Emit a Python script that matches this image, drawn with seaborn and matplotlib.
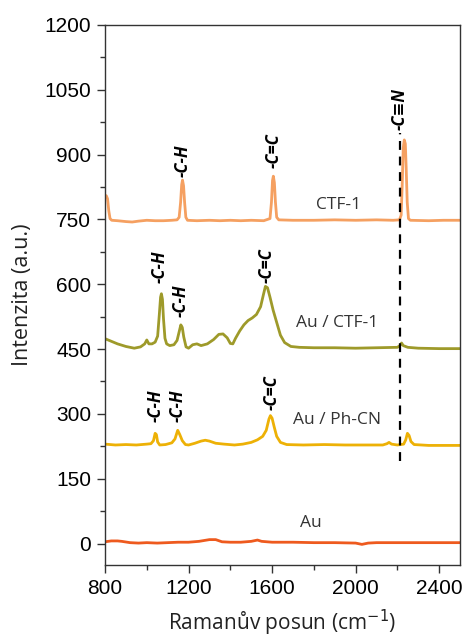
import matplotlib
matplotlib.use("Agg")
import matplotlib.pyplot as plt
import seaborn as sns
import pandas as pd
from matplotlib.ticker import MultipleLocator

# ---------------- data ----------------
ctf_x = [800, 806, 812, 818, 824, 832, 860, 900, 930, 960, 1000, 1040, 1080, 1120, 1145, 1155, 1162, 1167, 1171, 1176, 1181, 1187, 1195, 1240, 1300, 1350, 1400, 1450, 1500, 1560, 1590, 1597, 1602, 1606, 1611, 1616, 1622, 1632, 1700, 1800, 1900, 2000, 2100, 2180, 2210, 2218, 2223, 2228, 2233, 2238, 2242, 2247, 2253, 2262, 2350, 2420, 2500]
ctf_y = [800, 805, 798, 770, 752, 748, 747, 745, 744, 746, 748, 747, 747, 748, 749, 755, 790, 830, 841, 828, 790, 755, 748, 747, 748, 747, 748, 747, 748, 747, 752, 790, 840, 850, 835, 790, 755, 749, 748, 748, 749, 748, 749, 748, 749, 760, 830, 915, 934, 925, 870, 790, 752, 748, 747, 748, 748]

auctf_x = [800, 830, 860, 900, 940, 970, 990, 1000, 1010, 1025, 1040, 1052, 1060, 1066, 1070, 1075, 1080, 1087, 1095, 1110, 1130, 1145, 1155, 1163, 1170, 1177, 1188, 1200, 1220, 1240, 1260, 1290, 1320, 1345, 1365, 1385, 1400, 1412, 1425, 1445, 1465, 1485, 1505, 1525, 1545, 1558, 1568, 1578, 1590, 1605, 1620, 1640, 1660, 1690, 1730, 1800, 1900, 2000, 2100, 2200, 2212, 2220, 2228, 2250, 2300, 2400, 2500]
auctf_y = [474, 468, 462, 456, 452, 455, 462, 471, 462, 462, 466, 480, 530, 570, 578, 565, 520, 475, 462, 458, 460, 470, 490, 506, 500, 478, 455, 452, 460, 462, 458, 462, 472, 484, 485, 476, 463, 462, 475, 492, 506, 516, 522, 530, 548, 575, 595, 592, 570, 540, 515, 482, 465, 456, 454, 453, 453, 452, 453, 454, 458, 464, 458, 454, 452, 451, 451]

phcn_x = [800, 850, 900, 950, 1000, 1020, 1032, 1040, 1046, 1052, 1062, 1090, 1120, 1135, 1148, 1158, 1170, 1185, 1200, 1230, 1260, 1280, 1300, 1330, 1370, 1420, 1460, 1500, 1530, 1555, 1572, 1585, 1592, 1600, 1610, 1622, 1640, 1670, 1750, 1850, 1950, 2050, 2130, 2150, 2160, 2172, 2200, 2230, 2240, 2248, 2256, 2265, 2280, 2350, 2450, 2500]
phcn_y = [230, 228, 229, 228, 230, 231, 238, 255, 252, 235, 228, 229, 233, 242, 262, 252, 238, 229, 228, 232, 237, 239, 237, 232, 230, 228, 230, 234, 240, 248, 262, 288, 296, 290, 270, 248, 234, 229, 228, 229, 228, 228, 228, 231, 234, 230, 228, 230, 240, 255, 250, 236, 229, 227, 227, 227]

au_x = [800, 830, 860, 880, 920, 960, 1000, 1050, 1100, 1150, 1200, 1250, 1300, 1330, 1360, 1400, 1450, 1500, 1530, 1550, 1600, 1650, 1700, 1800, 1900, 2000, 2030, 2060, 2100, 2200, 2300, 2400, 2500]
au_y = [4, 6, 6, 5, 2, 1, 2, 1, 2, 3, 3, 5, 9, 9, 4, 3, 3, 5, 8, 5, 3, 3, 3, 2, 2, 1, -2, 1, 2, 2, 2, 2, 2]

series_names = ["CTF-1", "Au / CTF-1", "Au / Ph-CN", "Au"]
series_colors = ["#F5A061", "#9E9A2A", "#EDB106", "#EE5A1E"]
series_label_pos = [(1920, 783), (1912, 510), (1912, 285), (1786, 48)]

# peak annotations: (text, x, y_bottom)
peak_labels = [
    ("-C-H", 1171, 848), ("-C=C", 1606, 869), ("-C\u2261N", 2212, 957),
    ("-C-H", 1060, 603), ("-C-H", 1163, 525), ("-C=C", 1573, 603),
    ("-C-H", 1041, 282), ("-C-H", 1149, 282), ("-C=C", 1597, 310),
]
cn_line_x = 2212
cn_line_y = (190, 950)

xticks = [800, 1200, 1600, 2000, 2400]
yticks = [0, 150, 300, 450, 600, 750, 900, 1050, 1200]

# ---------------- plot ----------------
sns.set_theme(style="ticks")
plt.rcParams['font.family'] = ['Liberation Sans', 'DejaVu Sans']

fig = plt.figure(figsize=(4.68, 6.4), dpi=100)
ax = fig.add_axes([0.2244, 0.117, 0.7586, 0.844])

for (xs, ys), c in zip([(ctf_x, ctf_y), (auctf_x, auctf_y), (phcn_x, phcn_y), (au_x, au_y)], series_colors):
    df = pd.DataFrame({"x": xs, "y": ys})
    sns.lineplot(data=df, x="x", y="y", ax=ax, color=c, lw=2.0, sort=False, estimator=None)

ax.plot([cn_line_x, cn_line_x], list(cn_line_y), color="black", lw=1.6, ls=(0, (4, 3)))

for name, (lx, ly) in zip(series_names, series_label_pos):
    ax.text(lx, ly, name, ha="center", va="center", fontsize=12.5, color="#333333",
            family=["Open Sans", "DejaVu Sans"])

for t, px, py in peak_labels:
    ax.text(px, py, t, rotation=90, ha="center", va="bottom", fontsize=12,
            fontweight="bold", fontstyle="italic", color="black",
            family=["Open Sans", "DejaVu Sans"])

ax.set_xlim(800, 2500)
ax.set_ylim(-50, 1200)
ax.set_xticks(xticks)
ax.set_yticks(yticks)
ax.xaxis.set_minor_locator(MultipleLocator(200))
ax.yaxis.set_minor_locator(MultipleLocator(75))
ax.tick_params(which="major", direction="out", length=6, width=1, labelsize=15, colors="#333333", labelcolor="black", pad=4)
ax.tick_params(which="minor", direction="out", length=3.5, width=1, colors="#333333")
for s in ax.spines.values():
    s.set_visible(True)
    s.set_color("#333333")
    s.set_linewidth(1.0)

ax.set_xlabel("Ramanův posun (cm$^{-1}$)", fontsize=15, family=["Open Sans", "DejaVu Sans"], color="#222222", labelpad=7)
ax.set_ylabel("Intenzita (a.u.)", fontsize=15.5, family=["Open Sans", "DejaVu Sans"], color="#222222", labelpad=8)

fig.savefig("out.png", dpi=100)
